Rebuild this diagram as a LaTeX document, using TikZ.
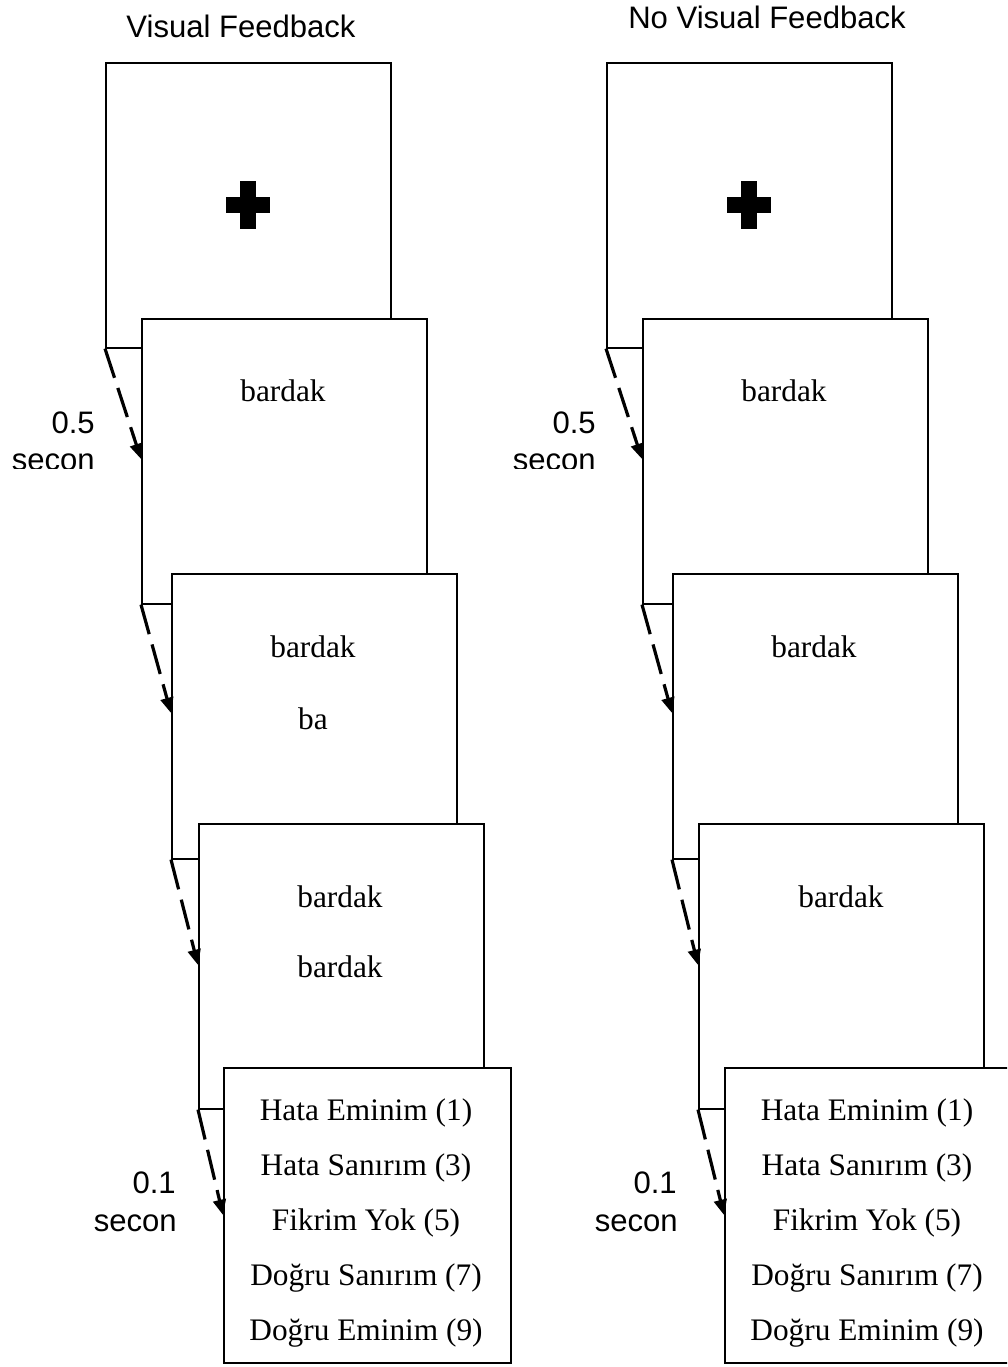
\documentclass[tikz,border=0pt]{standalone}
\usepackage{fontspec}
\setmainfont{Liberation Serif}
\newfontfamily\sansf{Liberation Sans}
\usetikzlibrary{arrows.meta,calc}
\begin{document}
\begin{tikzpicture}[x=0.75pt,y=-0.75pt,
  frame/.style={draw,line width=1.2pt,fill=white,anchor=north west,inner sep=0pt,minimum width=213.75pt,minimum height=213.75pt},
  lastframe/.style={frame,minimum width=215.25pt,minimum height=221.25pt},
  word/.style={font=\fontsize{23.5}{28}\selectfont,anchor=base,inner sep=0pt},
  lab/.style={font=\sansf\fontsize{23.3}{28}\selectfont,anchor=base east,inner sep=0pt},
  title/.style={font=\sansf\fontsize{23.3}{28}\selectfont,anchor=base,inner sep=0pt},
  flow/.style={line width=2.4pt,dash pattern=on 23pt off 8pt,-{Triangle[length=11.5pt,width=9.5pt]}},
  crossbar/.style={fill=black}]
\useasboundingbox (0,0) rectangle (1007,1367);
\clip (0,0) rectangle (1007,1367);

% titles
\node[title] (t1) at (241,37) {Visual Feedback};
\node[title] (t2) at (767,28) {No Visual Feedback};

% ---------- left column ----------
\node[frame] (a1) at (105,62) {};
\fill[crossbar] (225.5,197) rectangle (270,213);
\fill[crossbar] (240,181) rectangle (255.5,229);
\node[frame] (a2) at (141,318) {};
\node[word] (a2w) at (283,401) {bardak};
\node[frame] (a3) at (171,573) {};
\node[word] (a3w) at (313,657) {bardak};
\node[word] (a3v) at (313,729) {ba};
\node[frame] (a4) at (198,823) {};
\node[word] (a4w) at (340,907) {bardak};
\node[word] (a4v) at (340,977) {bardak};
\node[lastframe] (a5) at (223,1067) {};
\node[word] (a5r1) at (366,1120) {Hata Eminim (1)};
\node[word] (a5r2) at (366,1175) {Hata Sanırım (3)};
\node[word] (a5r3) at (366,1230) {Fikrim Yok (5)};
\node[word] (a5r4) at (366,1285) {Doğru Sanırım (7)};
\node[word] (a5r5) at (366,1340) {Doğru Eminim (9)};

\coordinate (a2in) at ($(a2.north west)+(0,141)$);
\coordinate (a3in) at ($(a3.north west)+(0,140)$);
\coordinate (a4in) at ($(a4.north west)+(0,142)$);
\coordinate (a5in) at ($(a5.north west)+(0,148)$);
\draw[flow] (a1.south west) -- (a2in);
\draw[flow] (a2.south west) -- (a3in);
\draw[flow] (a3.south west) -- (a4in);
\draw[flow] (a4.south west) -- (a5in);

\node[lab] (la1) at (95,433) {0.5};
\begin{scope}
  \clip (0,440) rectangle (120,468);
  \node[lab] (la2) at (95,470.5) {secon};
\end{scope}
\node[lab] (la3) at (176,1193) {0.1};
\node[lab] (la4) at (177,1231) {secon};

% ---------- right column ----------
\node[frame] (b1) at (606,62) {};
\fill[crossbar] (726.5,197) rectangle (771,213);
\fill[crossbar] (741,181) rectangle (756.5,229);
\node[frame] (b2) at (642,318) {};
\node[word] (b2w) at (784,401) {bardak};
\node[frame] (b3) at (672,573) {};
\node[word] (b3w) at (814,657) {bardak};
\node[frame] (b4) at (698,823) {};
\node[word] (b4w) at (841,907) {bardak};
\node[lastframe] (b5) at (724,1067) {};
\node[word] (b5r1) at (867,1120) {Hata Eminim (1)};
\node[word] (b5r2) at (867,1175) {Hata Sanırım (3)};
\node[word] (b5r3) at (867,1230) {Fikrim Yok (5)};
\node[word] (b5r4) at (867,1285) {Doğru Sanırım (7)};
\node[word] (b5r5) at (867,1340) {Doğru Eminim (9)};

\coordinate (b2in) at ($(b2.north west)+(0,141)$);
\coordinate (b3in) at ($(b3.north west)+(0,140)$);
\coordinate (b4in) at ($(b4.north west)+(0,142)$);
\coordinate (b5in) at ($(b5.north west)+(0,148)$);
\draw[flow] (b1.south west) -- (b2in);
\draw[flow] (b2.south west) -- (b3in);
\draw[flow] (b3.south west) -- (b4in);
\draw[flow] (b4.south west) -- (b5in);

\node[lab] (lb1) at (596,433) {0.5};
\begin{scope}
  \clip (500,440) rectangle (620,468);
  \node[lab] (lb2) at (596,470.5) {secon};
\end{scope}
\node[lab] (lb3) at (677,1193) {0.1};
\node[lab] (lb4) at (678,1231) {secon};
\end{tikzpicture}
\end{document}
